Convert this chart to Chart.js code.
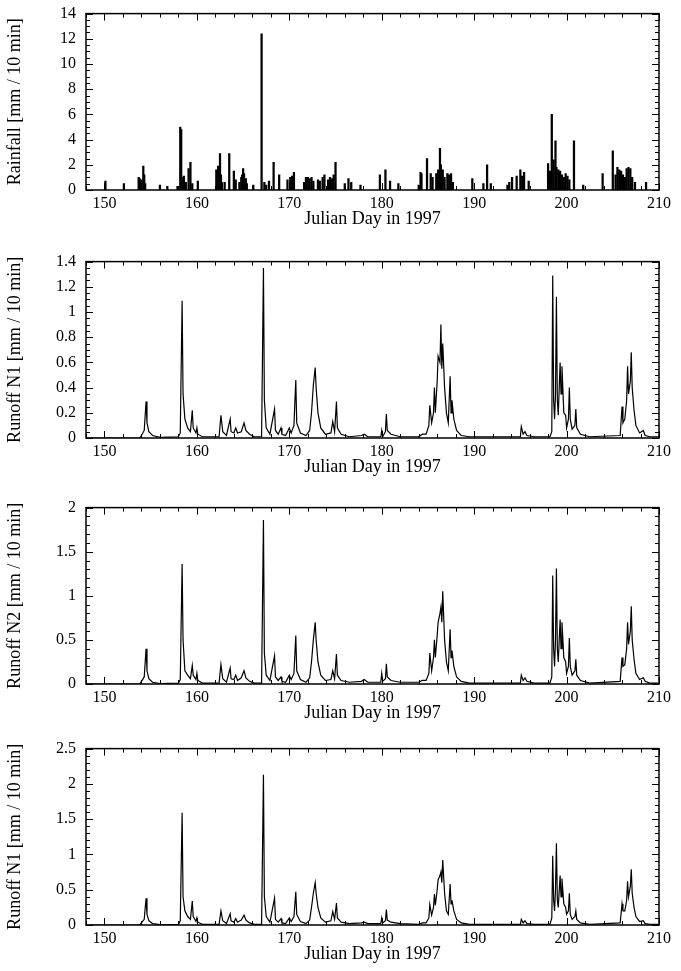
<!DOCTYPE html>
<html>
<head>
<meta charset="utf-8">
<script src="https://cdn.jsdelivr.net/npm/chart.js@4.4.1/dist/chart.umd.min.js"></script>
<style>
  html, body { margin: 0; padding: 0; background: #fff; overflow: hidden; }
  body { width: 681px; height: 971px; position: relative; }
  canvas { position: absolute; left: 0; }
</style>
</head>
<body>
<canvas id="rainfallChart" width="681" height="240" style="top:-6px"></canvas>
<canvas id="runoffN1Chart" width="681" height="240" style="top:242px"></canvas>
<canvas id="runoffN2Chart" width="681" height="240" style="top:488px"></canvas>
<canvas id="runoffN1bChart" width="681" height="240" style="top:729px"></canvas>
<script>
// x axis (Julian day) ticks
const xTicks = [150, 160, 170, 180, 190, 200, 210];

// rainfall, 10-min totals
const rainDays = [150.1, 152.1, 153.7, 153.8, 153.9, 154.0, 154.2, 154.3, 154.4, 156.0, 156.8, 157.9,
  158.2, 158.3, 158.5, 158.6, 158.8, 159.1, 159.3, 159.5, 160.1, 162.1, 162.3, 162.5, 162.6, 162.7,
  163.0, 163.5, 164.0, 164.2, 164.6, 164.8, 164.9, 165.0, 165.1, 165.3, 165.4, 166.1, 167.0, 167.3,
  167.5, 167.8, 168.3, 168.9, 169.8, 170.1, 170.3, 170.5, 171.6, 171.8, 172.0, 172.2, 172.4, 172.6,
  173.1, 173.3, 173.6, 173.8, 174.2, 174.4, 174.6, 174.8, 175.0, 176.0, 176.4, 176.7, 177.7, 179.8,
  180.4, 180.9, 181.8, 184.0, 184.2, 184.3, 184.9, 185.3, 185.5, 185.9, 186.1, 186.3, 186.4, 186.6,
  186.8, 187.1, 187.3, 187.5, 187.7, 189.8, 191.0, 191.4, 191.8, 193.6, 193.8, 194.1, 194.6, 195.0,
  195.2, 195.4, 195.9, 198.0, 198.2, 198.4, 198.6, 198.8, 198.9, 199.1, 199.3, 199.5, 199.7, 199.9,
  200.1, 200.3, 200.8, 201.8, 203.9, 205.0, 205.3, 205.5, 205.7, 205.9, 206.1, 206.3, 206.5, 206.7,
  206.9, 207.1, 207.4, 208.6];
const rainMm = [0.7, 0.5, 1.0, 0.9, 0.6, 0.8, 1.9, 1.2, 0.5, 0.4, 0.3, 0.3,
  5.0, 4.8, 1.0, 1.1, 0.6, 1.7, 2.2, 0.5, 0.7, 1.6, 1.9, 2.9, 1.2, 0.6,
  0.6, 2.9, 1.5, 0.8, 0.6, 1.0, 1.2, 1.7, 1.3, 0.9, 0.5, 0.4, 12.4, 0.6,
  0.4, 0.7, 2.2, 1.2, 0.8, 1.0, 1.1, 1.4, 0.6, 1.0, 1.0, 0.9, 1.0, 0.7,
  0.8, 0.7, 1.0, 1.2, 0.8, 1.0, 0.9, 1.2, 2.2, 0.5, 0.9, 0.6, 0.4, 1.2,
  1.6, 0.7, 0.5, 0.4, 1.4, 1.3, 2.5, 1.3, 1.0, 1.3, 1.6, 3.3, 2.0, 1.6,
  1.0, 1.3, 1.2, 1.3, 0.6, 0.9, 0.5, 2.0, 0.5, 0.4, 0.6, 1.0, 1.1, 1.6,
  1.1, 1.4, 0.7, 2.1, 1.5, 6.0, 2.4, 3.9, 1.8, 1.6, 1.5, 1.2, 1.0, 1.3,
  1.1, 0.8, 3.9, 0.4, 1.3, 3.1, 1.2, 1.8, 1.6, 1.5, 1.2, 1.0, 1.7, 1.8,
  1.7, 1.0, 0.6, 0.6];
const rainTicks = [0, 2, 4, 6, 8, 10, 12, 14];

// runoff, sampled on the same days for the three plots
const runoffDays = [148, 150.0, 153.8, 154.0, 154.3, 154.5, 154.6, 154.8, 155.2, 156.0,
  158.0, 158.2, 158.4, 158.5, 158.7, 159.0, 159.3, 159.5, 159.6, 159.9,
  160.0, 160.1, 160.6, 162.4, 162.6, 162.8, 163.2, 163.6, 163.7, 164.0,
  164.2, 164.4, 164.8, 165.1, 165.3, 165.7, 166.2, 167.0, 167.2, 167.3,
  167.5, 167.9, 168.4, 168.5, 168.8, 169.1, 169.2, 169.6, 170.0, 170.2,
  170.5, 170.7, 170.8, 171.2, 171.8, 172.2, 172.4, 172.6, 172.8, 172.9,
  173.1, 173.4, 173.9, 174.5, 174.7, 174.9, 175.1, 175.2, 175.6, 176.5,
  177.8, 178.1, 178.5, 179.9, 180.0, 180.1, 180.4, 180.5, 180.6, 181.0,
  182.0, 184.0, 184.4, 184.8, 185.1, 185.2, 185.4, 185.6, 185.7, 185.8,
  186.0, 186.1, 186.3, 186.4, 186.5, 186.6, 186.8, 187.0, 187.2, 187.4,
  187.5, 187.6, 187.8, 188.1, 188.6, 189.5, 195.0, 195.1, 195.3, 195.5,
  195.7, 196.5, 198.2, 198.4, 198.5, 198.6, 198.7, 198.8, 198.9, 199.0,
  199.1, 199.3, 199.4, 199.5, 199.7, 199.9, 200.0, 200.2, 200.3, 200.4,
  200.6, 200.9, 201.0, 201.1, 201.5, 202.5, 205.8, 206.0, 206.1, 206.3,
  206.5, 206.6, 206.7, 206.9, 207.0, 207.1, 207.3, 207.5, 207.9, 208.3,
  208.5, 209.0, 210];
const runoffN1 = [0, 0, 0, 0.02, 0.06, 0.29, 0.12, 0.05, 0.02, 0.005,
  0.01, 0.04, 1.09, 0.35, 0.15, 0.08, 0.05, 0.22, 0.08, 0.04,
  0.08, 0.03, 0.01, 0.01, 0.18, 0.05, 0.02, 0.15, 0.05, 0.04,
  0.08, 0.04, 0.05, 0.12, 0.06, 0.03, 0.01, 0.01, 1.35, 0.3,
  0.08, 0.03, 0.23, 0.06, 0.03, 0.08, 0.03, 0.02, 0.08, 0.04,
  0.1, 0.46, 0.12, 0.04, 0.02, 0.06, 0.2, 0.42, 0.56, 0.4,
  0.2, 0.08, 0.03, 0.04, 0.13, 0.05, 0.29, 0.08, 0.03, 0.01,
  0.02, 0.03, 0.01, 0.01, 0.06, 0.01, 0.05, 0.19, 0.06, 0.03,
  0.01, 0.01, 0.03, 0.03, 0.1, 0.26, 0.12, 0.2, 0.4, 0.2,
  0.45, 0.65, 0.6, 0.9, 0.55, 0.75, 0.4, 0.2, 0.12, 0.49,
  0.2, 0.3, 0.15, 0.06, 0.02, 0.01, 0.01, 0.09, 0.03, 0.05,
  0.02, 0.01, 0.01, 0.05, 1.29, 0.3, 0.15, 0.35, 1.12, 0.3,
  0.18, 0.6, 0.35, 0.57, 0.2, 0.18, 0.08, 0.15, 0.4, 0.15,
  0.07, 0.1, 0.23, 0.08, 0.03, 0.01, 0.02, 0.25, 0.12, 0.15,
  0.3, 0.57, 0.35, 0.45, 0.68, 0.4, 0.22, 0.1, 0.04, 0.06,
  0.02, 0.01, 0.01];
const runoffN2 = [0, 0, 0, 0.03, 0.08, 0.4, 0.15, 0.06, 0.02, 0.005,
  0.01, 0.05, 1.36, 0.5, 0.15, 0.1, 0.06, 0.21, 0.1, 0.05,
  0.12, 0.04, 0.01, 0.01, 0.22, 0.06, 0.02, 0.18, 0.06, 0.05,
  0.1, 0.04, 0.07, 0.15, 0.07, 0.03, 0.01, 0.01, 1.86, 0.35,
  0.1, 0.04, 0.32, 0.08, 0.04, 0.08, 0.03, 0.02, 0.1, 0.05,
  0.12, 0.55, 0.15, 0.05, 0.02, 0.07, 0.25, 0.5, 0.7, 0.5,
  0.25, 0.1, 0.04, 0.05, 0.15, 0.06, 0.34, 0.1, 0.04, 0.02,
  0.03, 0.05, 0.02, 0.02, 0.12, 0.03, 0.06, 0.23, 0.08, 0.04,
  0.02, 0.02, 0.04, 0.04, 0.12, 0.35, 0.15, 0.3, 0.5, 0.3,
  0.55, 0.7, 0.8, 0.87, 0.7, 1.05, 0.5, 0.25, 0.15, 0.62,
  0.3, 0.38, 0.2, 0.08, 0.03, 0.01, 0.01, 0.1, 0.04, 0.07,
  0.03, 0.01, 0.01, 0.08, 1.23, 0.4, 0.2, 0.5, 1.31, 0.4,
  0.25, 0.73, 0.4, 0.7, 0.3, 0.25, 0.12, 0.2, 0.52, 0.2,
  0.1, 0.15, 0.28, 0.1, 0.04, 0.01, 0.03, 0.3, 0.2, 0.22,
  0.4, 0.7, 0.45, 0.6, 0.88, 0.5, 0.28, 0.12, 0.05, 0.07,
  0.03, 0.01, 0.01];
const runoffN1b = [0, 0, 0, 0.03, 0.08, 0.38, 0.15, 0.06, 0.02, 0.005,
  0.01, 0.06, 1.59, 0.4, 0.2, 0.12, 0.08, 0.34, 0.12, 0.05,
  0.1, 0.04, 0.01, 0.01, 0.2, 0.06, 0.02, 0.16, 0.06, 0.04,
  0.09, 0.04, 0.07, 0.14, 0.07, 0.03, 0.01, 0.01, 2.13, 0.4,
  0.12, 0.04, 0.38, 0.08, 0.04, 0.09, 0.03, 0.02, 0.1, 0.05,
  0.12, 0.47, 0.15, 0.05, 0.02, 0.07, 0.25, 0.45, 0.6, 0.45,
  0.25, 0.1, 0.04, 0.06, 0.19, 0.08, 0.31, 0.1, 0.04, 0.02,
  0.03, 0.04, 0.02, 0.02, 0.1, 0.03, 0.06, 0.22, 0.07, 0.04,
  0.02, 0.01, 0.03, 0.03, 0.1, 0.29, 0.14, 0.25, 0.44, 0.28,
  0.5, 0.64, 0.7, 0.75, 0.6, 0.92, 0.45, 0.2, 0.15, 0.58,
  0.3, 0.35, 0.2, 0.08, 0.03, 0.01, 0.01, 0.08, 0.03, 0.06,
  0.02, 0.01, 0.01, 0.1, 0.98, 0.35, 0.2, 0.5, 1.16, 0.35,
  0.25, 0.7, 0.4, 0.66, 0.3, 0.25, 0.15, 0.2, 0.45, 0.15,
  0.08, 0.12, 0.2, 0.08, 0.03, 0.01, 0.03, 0.3, 0.2, 0.2,
  0.35, 0.62, 0.4, 0.55, 0.79, 0.45, 0.25, 0.12, 0.05, 0.06,
  0.02, 0.01, 0.01];
const n1Ticks = [0, 0.2, 0.4, 0.6, 0.8, 1, 1.2, 1.4];
const n2Ticks = [0, 0.5, 1, 1.5, 2];
const n1bTicks = [0, 0.5, 1, 1.5, 2, 2.5];

const serif = "'Liberation Serif', 'Times New Roman', serif";

// box round the plot plus small inward ticks on all four sides
const frameTicks = {
    id: "frameTicks",
    afterDatasetsDraw(chart, args, opts) {
        const { ctx, chartArea: a, scales: { x, y } } = chart;
        ctx.save();
        ctx.strokeStyle = "#000";
        ctx.lineWidth = 1;
        ctx.beginPath();
        for (let d = 148; d <= 210; d += 2) {
            const px = Math.round(x.getPixelForValue(d)) + 0.5;
            const len = d % 10 === 0 ? 7 : 4;
            ctx.moveTo(px, a.bottom); ctx.lineTo(px, a.bottom - len);
            ctx.moveTo(px, a.top); ctx.lineTo(px, a.top + len);
        }
        const n = Math.round(y.max / opts.minor);
        for (let k = 0; k <= n; k++) {
            const py = Math.round(y.getPixelForValue(k * opts.minor)) + 0.5;
            const len = k % opts.perMajor === 0 ? 7 : 4;
            ctx.moveTo(a.left, py); ctx.lineTo(a.left + len, py);
            ctx.moveTo(a.right, py); ctx.lineTo(a.right - len, py);
        }
        ctx.stroke();
        ctx.lineWidth = 1.5;
        ctx.strokeRect(a.left, a.top, a.right - a.left, a.bottom - a.top);
        ctx.restore();
    }
};

function renderPanel(canvasId, chartType, dataset, yTicks, yTitle, minor, perMajor) {
    const ctx = document.getElementById(canvasId);
    new Chart(ctx.getContext("2d"), {
        type: chartType,
        data: { datasets: [dataset] },
        options: {
            responsive: false,
            animation: false,
            layout: { padding: { top: 7, right: 22, left: 0, bottom: 0 } },
            plugins: {
                legend: { display: false },
                tooltip: { enabled: false },
                frameTicks: { minor: minor, perMajor: perMajor }
            },
            scales: {
                x: {
                    type: "linear",
                    min: 148,
                    max: 210,
                    offset: false,
                    grid: { display: false, drawTicks: false, tickLength: 0 },
                    border: { display: false },
                    afterBuildTicks: s => { s.ticks = xTicks.map(v => ({ value: v })); },
                    afterFit: s => { s.height = 44; },
                    ticks: {
                        color: "#000",
                        padding: 4,
                        maxRotation: 0,
                        font: { family: serif, size: 16 },
                        callback: v => String(v)
                    },
                    title: {
                        display: true,
                        text: "Julian Day in 1997",
                        color: "#000",
                        padding: { top: 0, bottom: 4 },
                        font: { family: serif, size: 18 }
                    }
                },
                y: {
                    min: 0,
                    max: yTicks[yTicks.length - 1],
                    grid: { display: false, drawTicks: false, tickLength: 0 },
                    border: { display: false },
                    afterBuildTicks: s => { s.ticks = yTicks.map(v => ({ value: v })); },
                    afterFit: s => { s.width = 86; },
                    ticks: {
                        color: "#000",
                        padding: 10,
                        font: { family: serif, size: 16 },
                        callback: v => String(v)
                    },
                    title: {
                        display: true,
                        text: yTitle,
                        color: "#000",
                        padding: { top: 4, bottom: 0 },
                        font: { family: serif, size: 18 }
                    }
                }
            }
        },
        plugins: [frameTicks]
    });
}

function lineSet(values) {
    return {
        data: runoffDays.map((d, i) => ({ x: d, y: values[i] })),
        borderColor: "#000",
        borderWidth: 1.2,
        pointRadius: 0,
        tension: 0,
        fill: false
    };
}

renderPanel("rainfallChart", "bar", {
    data: rainDays.map((d, i) => ({ x: d, y: rainMm[i] })),
    backgroundColor: "#000",
    barThickness: 1.6
}, rainTicks, "Rainfall [mm / 10 min]", 0.5, 4);

renderPanel("runoffN1Chart", "line", lineSet(runoffN1), n1Ticks, "Runoff N1 [mm / 10 min]", 0.05, 4);
renderPanel("runoffN2Chart", "line", lineSet(runoffN2), n2Ticks, "Runoff N2 [mm / 10 min]", 0.1, 5);
renderPanel("runoffN1bChart", "line", lineSet(runoffN1b), n1bTicks, "Runoff N1 [mm / 10 min]", 0.1, 5);
</script>
</body>
</html>
